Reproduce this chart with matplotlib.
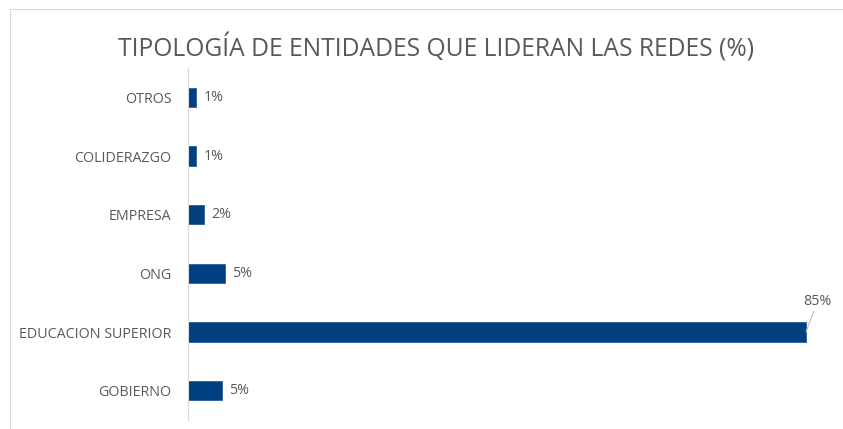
import matplotlib.pyplot as plt
from matplotlib.lines import Line2D

categories = ['OTROS', 'COLIDERAZGO', 'EMPRESA', 'ONG', 'EDUCACION SUPERIOR', 'GOBIERNO']
values = [1.1, 1.1, 2.2, 5.1, 85.0, 4.7]
labels = ['1%', '1%', '2%', '5%', '85%', '5%']

gray = '#595959'
blue = '#004080'

fig = plt.figure(figsize=(8.43, 4.29), dpi=100)
ax = fig.add_axes([188 / 843, 1 - 420 / 429, (830 - 188) / 843, (420 - 68) / 429])

pos = list(range(len(categories)))
ax.barh(pos, values, height=0.33, color=blue, edgecolor='#2a5f99', linewidth=0.6)
ax.set_ylim(5.5, -0.5)
ax.set_xlim(0, 85 * (830 - 188) / (806 - 188))

ax.set_yticks(pos)
ax.set_yticklabels(categories, fontsize=10.3, color=gray, family='Open Sans')
ax.tick_params(axis='y', length=0, pad=12)
ax.set_xticks([])
for s in ['top', 'right', 'bottom']:
    ax.spines[s].set_visible(False)
ax.spines['left'].set_color('#d9d9d9')
ax.spines['left'].set_linewidth(0.8)

for p, v, lab in zip(pos, values, labels):
    if v > 50:
        ax.annotate(lab, xy=(v, p), xytext=(v + 1.6, p - 0.4),
                    fontsize=10.3, color=gray, family='Open Sans', ha='center', va='bottom',
                    arrowprops=dict(arrowstyle='-', color='#bfbfbf', lw=0.8, shrinkA=0, shrinkB=0))
    else:
        ax.text(v + 1.0, p, lab, fontsize=10.3, color=gray, family='Open Sans', va='center', ha='left')

fig.text(436 / 843, 1 - 48 / 429, 'TIPOLOGÍA DE ENTIDADES QUE LIDERAN LAS REDES (%)',
         fontsize=17.7, color=gray, family='Open Sans', ha='center', va='center')

# chart area border (top and left edges visible)
fig.add_artist(Line2D([10 / 843, 1], [1 - 9 / 429, 1 - 9 / 429], color='#d9d9d9', lw=0.8))
fig.add_artist(Line2D([10 / 843, 10 / 843], [0, 1 - 9 / 429], color='#d9d9d9', lw=0.8))

fig.savefig('out.png', dpi=100, facecolor='white')
